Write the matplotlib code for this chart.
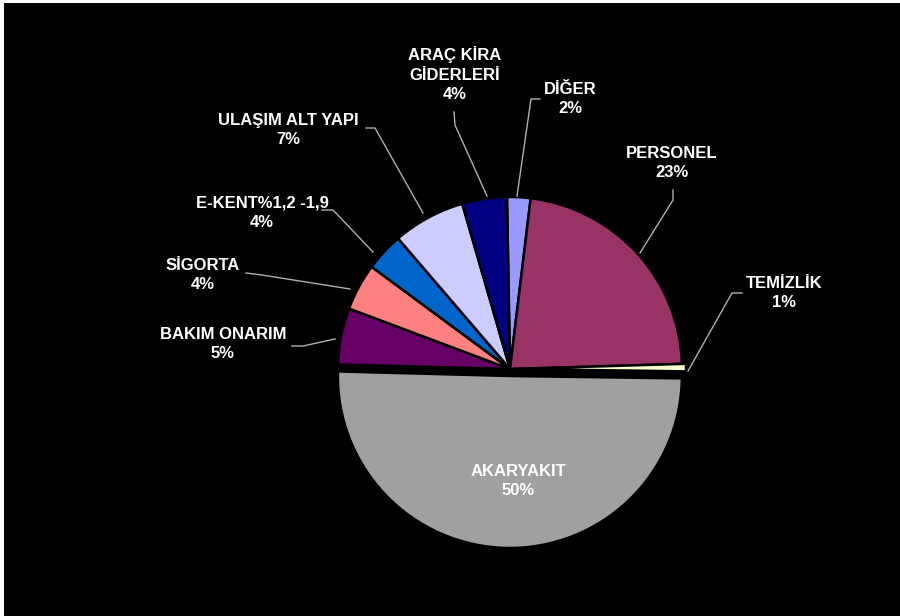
import matplotlib
matplotlib.use('Agg')
import matplotlib.pyplot as plt

# dilim sırası: saat yönünde, tepeden başlayarak
labels = ['DİĞER', 'PERSONEL', 'TEMİZLİK', 'AKARYAKIT', 'BAKIM ONARIM',
          'SİGORTA', 'E-KENT%1,2 -1,9', 'ULAŞIM ALT YAPI', 'ARAÇ KİRA\nGİDERLERİ']
values = [2.2, 22.6, 0.7, 50.2, 5.3, 4.4, 3.6, 6.8, 4.2]
pct_labels = ['2%', '23%', '1%', '50%', '5%', '4%', '4%', '7%', '4%']
colors = ['#9999FF', '#993366', '#FFFFCC', '#A0A0A0', '#660066',
          '#FF8080', '#0066CC', '#CCCCFF', '#000080']
# patlatma mesafesi (piksel)
explode = [0, 0, 4, 7, 0, 0, 0, 0, 0]

W, H = 900, 616


def py(y):
    # resim koordinatından (yukarıdan aşağı) eksen koordinatına
    return H - y


fig = plt.figure(figsize=(9, 6.16), dpi=100)
fig.patch.set_facecolor('white')
ax = fig.add_axes([4 / W, 0, (W - 4) / W, (H - 3) / H])
ax.set_facecolor('black')

ax.pie(values, colors=colors, explode=explode, startangle=91, counterclock=False,
       center=(510, py(369)), radius=172, frame=True,
       wedgeprops=dict(edgecolor='black', linewidth=1.8))
ax.set_xlim(4, W)
ax.set_ylim(0, H - 3)
ax.set_aspect('equal')
ax.axis('off')
ax.add_patch(plt.Rectangle((4, 0), W, H, color='black', zorder=0))

# etiket konumları (x, y) resim koordinatında
label_pos = [(570, 99), (672, 163), (784, 293), (518, 481), (223, 344),
             (203, 275), (262, 213), (288, 130), (455, 74)]
for lab, pct, (x, y) in zip(labels, pct_labels, label_pos):
    ax.text(x, py(y), lab + '\n' + pct, ha='center', va='center',
            color='white', fontsize=12, fontweight='bold',
            family=['Liberation Sans', 'DejaVu Sans'], linespacing=1.4)

# kılavuz çizgileri
leaders = [
    [(540, 99), (531, 99), (517, 196)],
    [(673, 190), (673, 200), (640, 253)],
    [(742, 293), (732, 293), (688, 371)],
    [(292, 346), (303, 346), (335, 339)],
    [(246, 273), (262, 275), (350, 289)],
    [(322, 210), (333, 210), (373, 252)],
    [(366, 128), (375, 128), (423, 213)],
    [(454, 112), (455, 125), (487, 196)],
]
for pts in leaders:
    xs = [p[0] for p in pts]
    ys = [py(p[1]) for p in pts]
    ax.plot(xs, ys, color='#B0B0B0', linewidth=1)

plt.savefig('out.png', dpi=100, facecolor=fig.get_facecolor())
plt.close()
